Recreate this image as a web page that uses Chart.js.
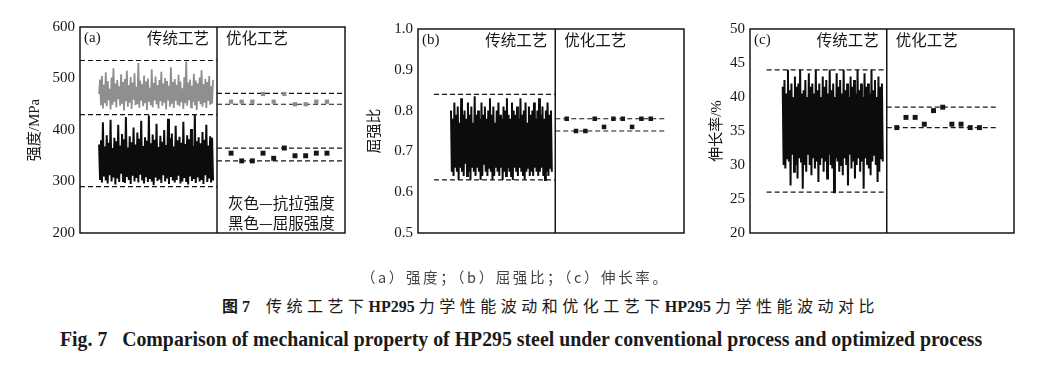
<!DOCTYPE html>
<html lang="zh">
<head>
<meta charset="UTF-8">
<title>HP295 力学性能波动对比</title>
<script src="https://cdn.jsdelivr.net/npm/chart.js"></script>
<style>
    body { margin: 0; background: #fff; width: 1048px; height: 370px; position: relative; overflow: hidden; }
    canvas { position: absolute; }
    .cap { position: absolute; white-space: nowrap; color: #1a1a1a; transform-origin: 0 50%; }
    .cn { font-family: "Noto Sans CJK SC", sans-serif; }
    .en { font-family: "Liberation Serif", serif; font-weight: bold; }
</style>
</head>
<body>
<canvas id="chartA" width="349" height="234" style="left:0px;top:13px"></canvas>
<canvas id="chartB" width="350" height="232" style="left:338px;top:15px"></canvas>
<canvas id="chartC" width="348" height="232" style="left:670px;top:15px"></canvas>

<div class="cap cn" id="cap1" style="left:361px;top:267px;font-size:14.5px;line-height:20px;letter-spacing:2.6px;color:#444">（a）强度；（b）屈强比；（c）伸长率。</div>
<div class="cap" id="cap2" style="left:222px;top:295px;font-size:16px;line-height:20px">
    <span class="cn" style="font-weight:bold">图</span><span class="en"> 7</span>&nbsp;&nbsp;&nbsp;&nbsp;<span class="cn" style="letter-spacing:4.5px">传统工艺下</span><span class="en">HP295 </span><span class="cn" style="letter-spacing:4.5px">力学性能波动和优化工艺下</span><span class="en">HP295 </span><span class="cn" style="letter-spacing:4.5px">力学性能波动对比</span>
</div>
<div class="cap en" id="cap3" style="left:60px;top:328px;font-size:20px;line-height:22px">Fig. 7&nbsp;&nbsp;&nbsp;Comparison of mechanical property of HP295 steel under conventional process and optimized process</div>

<script>
    // (a) strength, MPa -- conventional process (dense record) and optimized process (10 heats)
    const tensileConv = [470, 498, 448, 505, 442, 488, 452, 512, 446, 495, 458, 480, 440, 502, 449, 520, 455, 490, 444, 497,
        460, 485, 447, 508, 451, 493, 438, 499, 456, 515, 445, 487, 453, 503, 441, 492, 459, 510, 448, 484,
        450, 530, 443, 496, 457, 489, 446, 506, 452, 494, 439, 500, 455, 482, 448, 518, 444, 491, 458, 504,
        450, 487, 442, 497, 456, 513, 447, 490, 453, 501, 440, 495, 459, 486, 445, 522, 451, 493, 443, 499,
        457, 488, 449, 507, 446, 494, 454, 481, 441, 503, 452, 533, 447, 492, 458, 498, 444, 486, 455, 509,
        448, 496, 439, 490, 456, 502, 450, 516, 445, 489, 453, 499, 443, 493, 457, 505, 449, 485, 451, 497];
    const yieldConv = [372, 305, 380, 298, 415, 310, 368, 302, 390, 296, 375, 312, 420, 300, 365, 308, 385, 294, 378, 306,
        410, 299, 370, 315, 392, 301, 382, 297, 425, 309, 366, 303, 388, 295, 376, 311, 405, 300, 372, 307,
        395, 298, 383, 313, 418, 302, 369, 296, 386, 310, 379, 299, 428, 305, 374, 300, 391, 293, 381, 308,
        412, 301, 367, 304, 389, 297, 377, 312, 400, 300, 371, 306, 422, 295, 384, 309, 393, 302, 368, 298,
        408, 303, 380, 311, 387, 296, 375, 300, 416, 307, 373, 299, 390, 294, 382, 310, 402, 301, 369, 305,
        430, 297, 378, 308, 386, 300, 374, 303, 396, 295, 381, 312, 410, 299, 370, 306, 388, 298, 385, 302];
    const tensileOpt = [455, 455, 455, 470, 455, 470, 450, 450, 455, 455];
    const yieldOpt = [355, 340, 340, 355, 345, 365, 350, 350, 355, 355];
    const strengthLimitsConv = [535, 430, 290];
    const strengthLimitsOpt = [471, 450, 365, 340];

    // (b) yield ratio
    const ratioConv = [0.80, 0.65, 0.78, 0.64, 0.82, 0.66, 0.79, 0.65, 0.81, 0.63, 0.77, 0.66, 0.83, 0.65, 0.79, 0.64, 0.80, 0.67, 0.78, 0.64,
        0.82, 0.65, 0.79, 0.63, 0.81, 0.66, 0.77, 0.65, 0.835, 0.64, 0.79, 0.66, 0.80, 0.65, 0.78, 0.63, 0.82, 0.64, 0.79, 0.67,
        0.81, 0.65, 0.78, 0.64, 0.80, 0.66, 0.83, 0.65, 0.79, 0.63, 0.81, 0.64, 0.77, 0.66, 0.80, 0.65, 0.82, 0.64, 0.79, 0.66,
        0.78, 0.63, 0.81, 0.65, 0.80, 0.64, 0.83, 0.66, 0.79, 0.65, 0.78, 0.64, 0.82, 0.63, 0.80, 0.66, 0.79, 0.65, 0.81, 0.64,
        0.78, 0.66, 0.83, 0.65, 0.79, 0.64, 0.80, 0.63, 0.82, 0.65, 0.77, 0.66, 0.81, 0.64, 0.79, 0.65, 0.80, 0.64, 0.82, 0.66,
        0.78, 0.65, 0.80, 0.64, 0.83, 0.65, 0.79, 0.66, 0.81, 0.64, 0.78, 0.63, 0.80, 0.65, 0.82, 0.64, 0.79, 0.66, 0.80, 0.65];
    const ratioOpt = [0.78, 0.75, 0.75, 0.78, 0.76, 0.78, 0.78, 0.76, 0.78, 0.78];
    const ratioLimitsConv = [0.84, 0.63];
    const ratioLimitsOpt = [0.78, 0.75];

    // (c) elongation, %
    const elongConv = [41.5, 30.0, 42.5, 29.5, 40.5, 31.0, 44.0, 30.5, 41.0, 27.0, 42.0, 31.5, 40.0, 29.0, 43.0, 30.0, 41.5, 28.0, 42.0, 31.0,
        44.0, 30.5, 40.5, 26.5, 41.0, 30.0, 42.5, 29.0, 40.0, 31.5, 43.5, 30.0, 41.5, 28.5, 42.0, 31.0, 40.5, 29.5, 44.0, 30.5,
        41.0, 27.5, 42.0, 30.0, 40.0, 31.0, 43.0, 29.0, 41.5, 30.5, 42.5, 28.0, 40.5, 31.5, 44.0, 30.0, 41.0, 29.5, 42.0, 26.0,
        40.0, 31.0, 43.5, 30.5, 41.5, 29.0, 42.5, 30.0, 40.5, 28.5, 44.0, 31.0, 41.0, 30.0, 42.0, 27.0, 40.0, 31.5, 43.0, 29.5,
        41.5, 30.5, 42.5, 28.0, 40.5, 30.0, 44.0, 31.0, 41.0, 29.0, 42.0, 30.5, 40.0, 26.5, 43.5, 31.0, 41.5, 30.0, 42.0, 29.5,
        40.5, 28.5, 44.0, 30.5, 41.0, 31.5, 42.5, 30.0, 40.0, 27.5, 43.0, 29.0, 41.5, 31.0, 42.0, 30.5];
    const elongOpt = [35.5, 37, 37, 36, 38, 38.5, 36, 36, 35.5, 35.5];
    const elongLimitsConv = [44, 26];
    const elongLimitsOpt = [38.5, 35.5];

    const INK = '#161616';
    const GREY = '#8c8c8c';

    // spread n samples evenly between two positions of the 0..100 x scale
    function spread(values, from, to) {
        const step = values.length > 1 ? (to - from) / (values.length - 1) : 0;
        return values.map((v, i) => ({ x: from + i * step, y: v }));
    }

    function limitLines(values, from, to) {
        return values.map(v => ({
            type: 'line',
            data: [{ x: from, y: v }, { x: to, y: v }],
            borderColor: INK,
            borderWidth: 1.2,
            borderDash: [5, 3],
            pointRadius: 0,
            order: 1
        }));
    }

    function decor(p) {
        return {
            id: 'decor',
            afterDatasetsDraw(chart) {
                const { ctx, chartArea: a } = chart;
                const xd = chart.scales.x.getPixelForValue(p.divider);
                ctx.save();
                ctx.strokeStyle = INK;
                ctx.lineWidth = 1.5;
                ctx.strokeRect(a.left, a.top, a.right - a.left, a.bottom - a.top);
                ctx.beginPath();
                ctx.moveTo(xd, a.top);
                ctx.lineTo(xd, a.bottom);
                ctx.stroke();

                ctx.fillStyle = INK;
                ctx.textBaseline = 'middle';
                ctx.textAlign = 'left';
                ctx.font = '15px "Liberation Serif"';
                ctx.fillText(p.tag, a.left + 4, a.top + 11);
                ctx.font = '15.5px "Noto Sans CJK SC"';
                ctx.textAlign = 'right';
                ctx.fillText('传统工艺', xd - 8, a.top + 11);
                ctx.textAlign = 'left';
                ctx.fillText('优化工艺', xd + 9, a.top + 11);
                const notes = p.notes || [];
                notes.forEach((t, i) => {
                    ctx.fillText(t, xd + 11, a.bottom - 10 - (notes.length - 1 - i) * 20);
                });
                ctx.restore();
            }
        };
    }

    function makePanel(id, p) {
        const datasets = [];
        p.optSeries.forEach(s => datasets.push({
            type: 'scatter',
            data: spread(s.values, p.optFrom, p.optTo),
            pointStyle: 'rect',
            pointRadius: s.size,
            backgroundColor: s.color,
            borderWidth: 0,
            order: 0
        }));
        datasets.push(...limitLines(p.limitsConv, p.convLineFrom, p.divider));
        datasets.push(...limitLines(p.limitsOpt, p.divider, p.optLineTo));
        p.convSeries.forEach((s, i) => datasets.push({
            type: 'line',
            data: spread(s.values, p.convFrom, p.convTo),
            borderColor: s.color,
            borderWidth: s.width,
            borderJoinStyle: 'miter',
            pointRadius: 0,
            tension: 0,
            order: 2 + i
        }));

        new Chart(document.getElementById(id), {
            type: 'line',
            data: { datasets },
            options: {
                responsive: false,
                animation: false,
                devicePixelRatio: 1,
                layout: { padding: { top: 10, bottom: 10, right: 4, left: 0 } },
                plugins: { legend: { display: false }, tooltip: { enabled: false } },
                scales: {
                    x: { type: 'linear', min: 0, max: 100, display: false },
                    y: {
                        min: p.yMin, max: p.yMax,
                        afterFit: s => { s.width = 80; },
                        grid: { display: false, drawTicks: false },
                        border: { display: false },
                        ticks: {
                            stepSize: p.yStep,
                            padding: 5,
                            color: INK,
                            font: { family: 'Liberation Serif', size: 15 },
                            callback: v => v.toFixed(p.digits)
                        },
                        title: {
                            display: true,
                            text: p.yTitle,
                            color: INK,
                            font: { family: '"Liberation Serif", "Noto Sans CJK SC"', size: 15 },
                            padding: { top: p.titlePad, bottom: 0 }
                        }
                    }
                }
            },
            plugins: [decor(p)]
        });
    }

    makePanel('chartA', {
        tag: '(a)', yTitle: '强度/MPa', titlePad: 26,
        yMin: 200, yMax: 600, yStep: 100, digits: 0,
        divider: 51.7, convFrom: 7.2, convTo: 50.2, optFrom: 57.0, optTo: 93.2,
        convLineFrom: 0, optLineTo: 99.6,
        convSeries: [{ values: yieldConv, color: '#0c0c0c', width: 2 }, { values: tensileConv, color: '#8f8f8f', width: 1.8 }],
        optSeries: [{ values: yieldOpt, color: INK, size: 3.5 }, { values: tensileOpt, color: GREY, size: 3 }],
        limitsConv: strengthLimitsConv, limitsOpt: strengthLimitsOpt,
        notes: ['灰色—抗拉强度', '黑色—屈服强度']
    });

    makePanel('chartB', {
        tag: '(b)', yTitle: '屈强比', titlePad: 28,
        yMin: 0.5, yMax: 1.0, yStep: 0.1, digits: 1,
        divider: 51.6, convFrom: 12.4, convTo: 50.3, optFrom: 55.9, optTo: 87.5,
        convLineFrom: 6.0, optLineTo: 93.6,
        convSeries: [{ values: ratioConv, color: '#0c0c0c', width: 2 }],
        optSeries: [{ values: ratioOpt, color: INK, size: 3.2 }],
        limitsConv: ratioLimitsConv, limitsOpt: ratioLimitsOpt
    });

    makePanel('chartC', {
        tag: '(c)', yTitle: '伸长率/%', titlePad: 38,
        yMin: 20, yMax: 50, yStep: 5, digits: 0,
        divider: 51.8, convFrom: 12.4, convTo: 50.3, optFrom: 55.6, optTo: 86.9,
        convLineFrom: 6.3, optLineTo: 93.8,
        convSeries: [{ values: elongConv, color: '#0c0c0c', width: 2 }],
        optSeries: [{ values: elongOpt, color: INK, size: 3.5 }],
        limitsConv: elongLimitsConv, limitsOpt: elongLimitsOpt
    });

    // squeeze the English caption to the width it has in the printed figure
    const cap3 = document.getElementById('cap3');
    cap3.style.transform = 'scaleX(' + (922 / cap3.offsetWidth) + ')';
</script>
</body>
</html>
